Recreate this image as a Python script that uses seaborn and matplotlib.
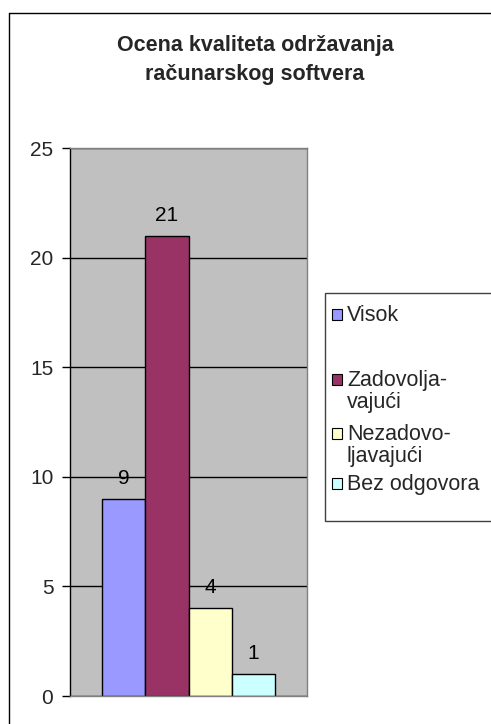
import matplotlib
matplotlib.use('Agg')
import matplotlib.pyplot as plt
import seaborn as sns
import pandas as pd
from matplotlib.patches import Rectangle
from matplotlib.lines import Line2D

# data
kategorije = ['Visok', 'Zadovoljavajući', 'Nezadovoljavajući', 'Bez odgovora']
legend_labels = ['Visok', 'Zadovolja-\nvajući', 'Nezadovo-\nljavajući', 'Bez odgovora']
odgovori = [9, 21, 4, 1]
boje = ['#9999FF', '#993366', '#FFFFCC', '#CCFFFF']
y_ticks = [0, 5, 10, 15, 20, 25]
naslov = 'Ocena kvaliteta održavanja\nračunarskog softvera'

W, H = 491, 724

def fx(px):
    return px / W

def fy(px):
    return 1 - px / H

sns.set_style('white')
plt.rcParams['font.family'] = ['Liberation Sans', 'DejaVu Sans']

df = pd.DataFrame({'grupa': [''] * len(kategorije), 'kategorija': kategorije, 'broj': odgovori})

fig = plt.figure(figsize=(W / 100, H / 100), dpi=100)
ax = fig.add_axes([fx(70), fy(696), fx(307) - fx(70), fy(148) - fy(696)])
ax.set_facecolor('#C0C0C0')

sns.barplot(data=df, x='grupa', y='broj', hue='kategorija', hue_order=kategorije,
            palette=dict(zip(kategorije, boje)), saturation=1, width=0.726, gap=0,
            edgecolor='black', linewidth=1, legend=False, ax=ax)

for c in ax.containers:
    ax.bar_label(c, padding=8, fontsize=15, color='black')

ax.set_ylim(0, 25)
ax.set_yticks(y_ticks)
ax.set_xticks([])
ax.set_xlabel('')
ax.set_ylabel('')
ax.yaxis.grid(True, color='black', linewidth=1)
ax.set_axisbelow(True)
ax.tick_params(axis='y', direction='out', length=6, width=1, pad=6, labelsize=15,
               left=True, color='black')
for side in ['top', 'right', 'bottom']:
    ax.spines[side].set_color('#808080')
    ax.spines[side].set_linewidth(1)
ax.spines['left'].set_color('black')
ax.spines['left'].set_linewidth(1)

# title
fig.text(fx(255), fy(60), naslov, ha='center', va='center', fontsize=15.5,
         fontweight='bold', linespacing=1.45)

# manual legend box, Excel style
fig.add_artist(Rectangle((fx(325), fy(521)), fx(180), fy(293) - fy(521),
                         transform=fig.transFigure, facecolor='white',
                         edgecolor='#404040', linewidth=1))
entry_y = [313, 378, 432, 482]
for lab, col, yy in zip(legend_labels, boje, entry_y):
    fig.add_artist(Rectangle((fx(332), fy(yy + 7)), fx(10), fy(yy - 4) - fy(yy + 7),
                             transform=fig.transFigure, facecolor=col,
                             edgecolor='black', linewidth=0.8))
    for i, line in enumerate(lab.split('\n')):
        fig.text(fx(347), fy(yy + 22 * i + 8), line, ha='left', va='baseline',
                 fontsize=15.5)

# outer chart frame
fig.add_artist(Line2D([fx(9), fx(9)], [fy(13), 0], transform=fig.transFigure,
                      color='black', linewidth=1))
fig.add_artist(Line2D([fx(9), 1], [fy(13), fy(13)], transform=fig.transFigure,
                      color='black', linewidth=1))

fig.savefig('out.png', dpi=100)
